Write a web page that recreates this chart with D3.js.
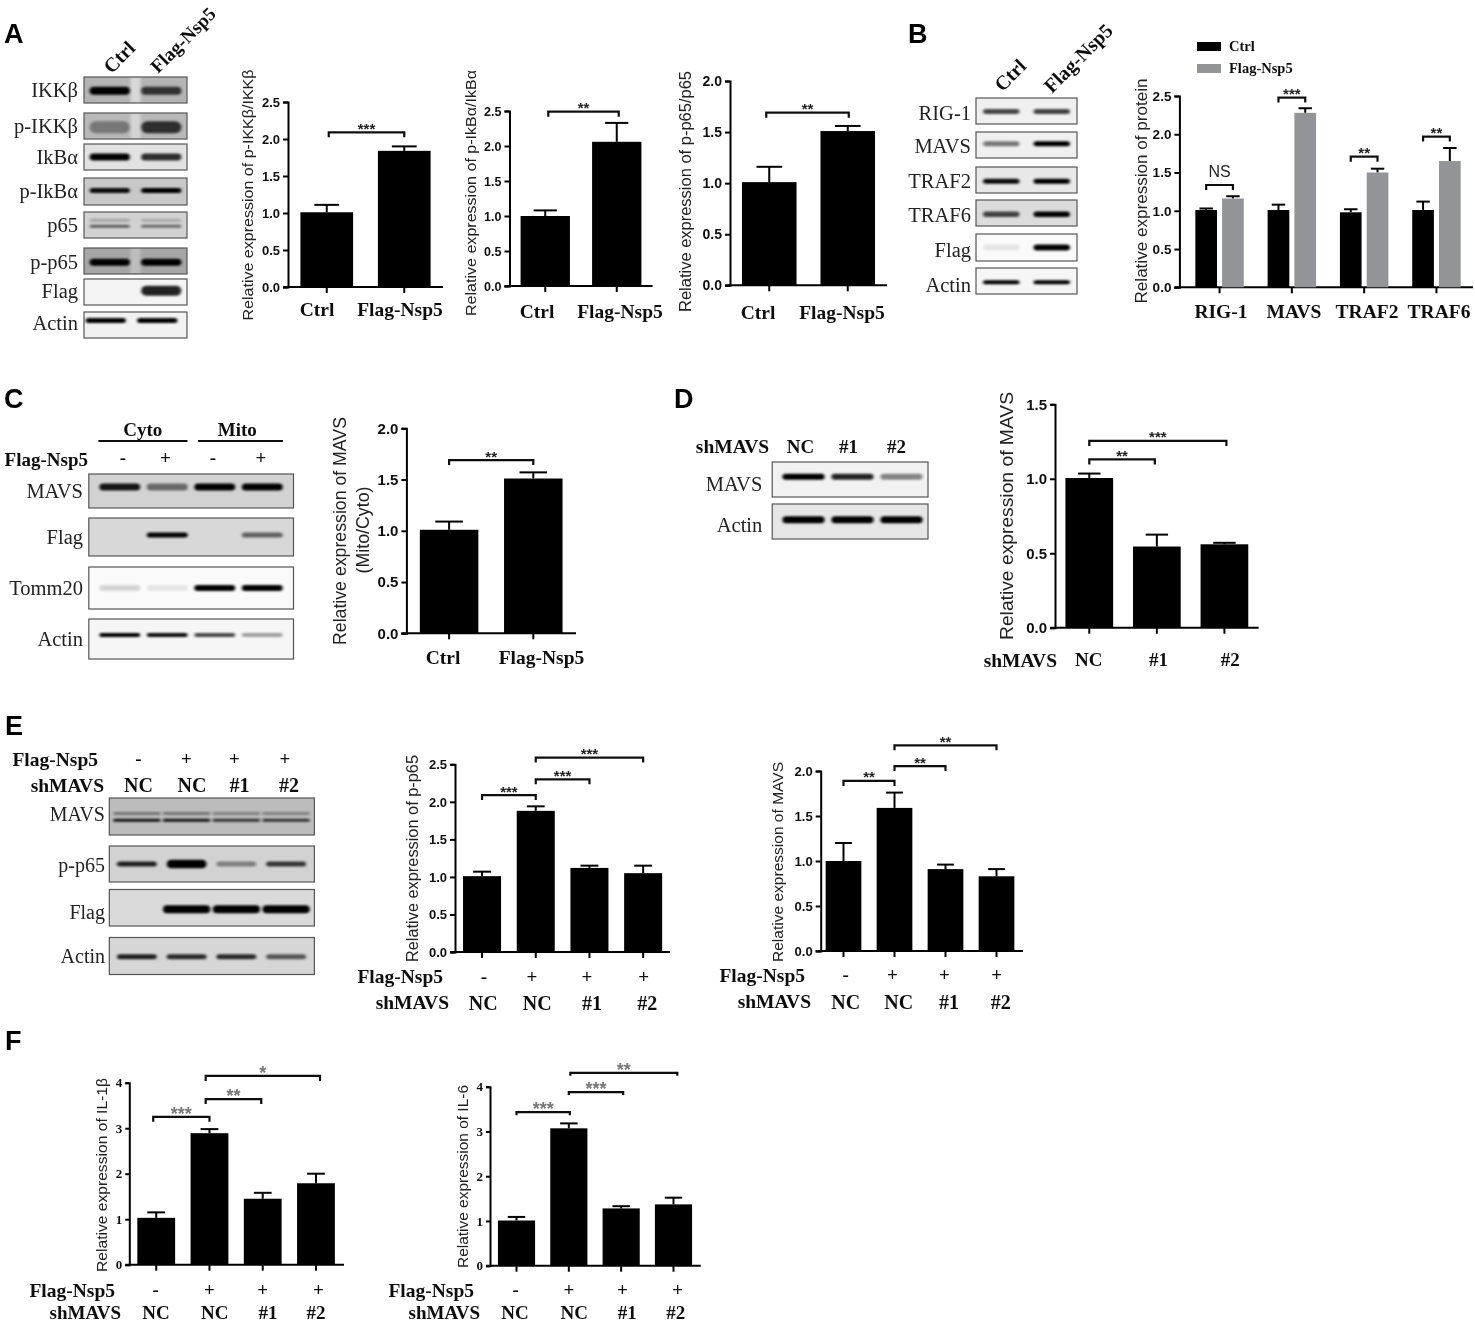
<!DOCTYPE html>
<html><head><meta charset="utf-8">
<script src="https://cdn.jsdelivr.net/npm/d3@7/dist/d3.min.js"></script>
<style>html,body{margin:0;background:#fff}svg{display:block}</style></head>
<body><div id="c"></div>
<script>
// ---------- DATA ----------
const ctrlFlag = ["Ctrl","Flag-Nsp5"];
const proteins = ["RIG-1","MAVS","TRAF2","TRAF6"];
const shOnly = ["NC","#1","#2"];
const flagRow = ["-","+","+","+"];
const shRow = ["NC","NC","#1","#2"];
const groupKeys4 = ["a","b","c","d"];

const a1Values=[1.01,1.84], a1Err=[0.10,0.06];
const a2Values=[1.00,2.06], a2Err=[0.08,0.27];
const a3Values=[1.01,1.51], a3Err=[0.15,0.05];
const bCtrl=[1.01,1.01,0.98,1.01], bCtrlErr=[0.02,0.07,0.04,0.11];
const bFlag=[1.16,2.28,1.50,1.65], bFlagErr=[0.03,0.06,0.05,0.17];
const cValues=[1.01,1.51], cErr=[0.08,0.06];
const dValues=[1.005,0.545,0.56], dErr=[0.03,0.08,0.01];
const e1Values=[1.01,1.88,1.12,1.05], e1Err=[0.06,0.06,0.03,0.10];
const e2Values=[1.00,1.59,0.91,0.83], e2Err=[0.20,0.17,0.05,0.08];
const f1Values=[1.03,2.89,1.45,1.79], f1Err=[0.12,0.09,0.13,0.21];
const f2Values=[1.01,3.07,1.28,1.37], f2Err=[0.08,0.11,0.05,0.15];

// band strength per lane, read from the blots (0 = no band, 1 = black)
const blotA = {labels:["IKKβ","p-IKKβ","IkBα","p-IkBα","p65","p-p65","Flag","Actin"],
  v:[[1,.72],[.35,.75],[1,.8],[.95,1],[.55,.5],[1,1],[0,.85],[1,1]]};
const blotB = {labels:["RIG-1","MAVS","TRAF2","TRAF6","Flag","Actin"],
  v:[[.7,.72],[.5,1],[.95,1],[.7,1],[.08,1],[1,1]]};
const blotC = {labels:["MAVS","Flag","Tomm20","Actin"],
  v:[[.9,.5,1,1],[0,1,0,.55],[.14,.08,1,1],[1,.95,.7,.35]]};
const blotD = {labels:["MAVS","Actin"], v:[[1,.85,.45],[1,1,1]]};
const blotE = {labels:["MAVS","p-p65","Flag","Actin"],
  v:[[.9,.9,.75,.75],[.85,1,.4,.75],[0,1,1,1],[.85,.8,.8,.6]]};

// ---------- LAYOUT ----------
const W=1475,H=1323;
const sans='"Liberation Sans",Arial,sans-serif', serif='"Liberation Serif","Times New Roman",serif';
const svg=d3.select("#c").append("svg").attr("width",W).attr("height",H);
const defs=svg.append("defs");
defs.append("filter").attr("id","soft").attr("x","-5%").attr("y","-5%").attr("width","110%").attr("height","110%")
  .append("feGaussianBlur").attr("stdDeviation",0.45);
const bf=defs.append("filter").attr("id","band").attr("x","-30%").attr("y","-200%").attr("width","160%").attr("height","500%");
bf.append("feGaussianBlur").attr("stdDeviation","1.5 1");
const root=svg.append("g").attr("filter","url(#soft)");

function txt(x,y,s,o={}){
  const t=root.append("text").attr("x",x).attr("y",y).text(s)
    .attr("font-family",o.f||serif).attr("font-size",o.s||19)
    .attr("font-weight",o.b===false?"normal":"bold")
    .attr("text-anchor",o.a||"middle").attr("dominant-baseline","central")
    .attr("fill",o.c||"#111");
  if(o.r!=null) t.attr("transform",`rotate(${o.r},${x},${y})`);
  if(o.len) t.attr("textLength",o.len).attr("lengthAdjust","spacingAndGlyphs");
  return t;
}
function letter(s,x,y){root.append("text").attr("x",x).attr("y",y).text(s)
  .attr("font-family",sans).attr("font-size",27).attr("font-weight","bold").attr("fill","#000");}

function chart(o){
  const g=root.append("g");
  const x=d3.scaleBand().domain(o.cats).range(o.xr).paddingInner(o.pad).paddingOuter(o.pad/2);
  const y=d3.scaleLinear().domain([0,o.max]).range([o.y0,o.yt]);
  const ax=g.append("g").attr("transform",`translate(${o.ax},0)`)
    .call(d3.axisLeft(y).tickValues(o.ticks).tickSize(o.tl||5).tickPadding(3).tickFormat(o.fmt||d3.format(".1f")));
  ax.selectAll("path,line").attr("stroke","#000").attr("stroke-width",2);
  ax.selectAll("text").attr("font-family",o.tf||sans).attr("font-weight","bold").attr("font-size",o.ts||13).attr("fill","#111");
  const bx=g.append("g").attr("transform",`translate(0,${o.y0})`)
    .call(d3.axisBottom(x).tickSize(6).tickFormat(""));
  bx.select("path").remove();
  bx.selectAll("line").attr("stroke","#000").attr("stroke-width",2);
  g.append("line").attr("x1",o.ax-(o.tl||5)).attr("x2",o.axEnd).attr("y1",o.y0).attr("y2",o.y0).attr("stroke","#000").attr("stroke-width",2);
  const cx=c=>x(c)+x.bandwidth()/2;
  const series=o.series||[{v:o.values,e:o.errs,fill:"#000"}];
  const inner=d3.scaleBand().domain(d3.range(series.length)).range([0,x.bandwidth()]).paddingInner(series.length>1?o.innerPad:0);
  const pos=(i,s)=>x(o.cats[i])+inner(s)+inner.bandwidth()/2;
  series.forEach((s,si)=>{
    const w=inner.bandwidth(), cap=w*(o.cap||.47);
    s.v.forEach((v,i)=>{
      const c=pos(i,si), e=v+s.e[i];
      g.append("line").attr("x1",c).attr("x2",c).attr("y1",y(v)).attr("y2",y(e)).attr("stroke","#000").attr("stroke-width",2);
      g.append("line").attr("x1",c-cap/2).attr("x2",c+cap/2).attr("y1",y(e)).attr("y2",y(e)).attr("stroke","#000").attr("stroke-width",2);
      g.append("rect").attr("x",c-w/2).attr("width",w).attr("y",y(v)).attr("height",y(0)-y(v)).attr("fill",s.fill);
    });
  });
  (o.brackets||[]).forEach(b=>{
    const x1=(series.length>1?pos(b.i,0):cx(o.cats[b.i]))+(b.d1||0), x2=(series.length>1?pos(b.i,1):cx(o.cats[b.j]))+(b.d2||0);
    const yy=y(b.y), d=o.drop||5;
    g.append("path").attr("d",`M${x1},${yy+d}V${yy}H${x2}V${yy+d}`).attr("fill","none").attr("stroke","#111").attr("stroke-width",o.bw||2.2);
    g.append("text").attr("x",(x1+x2)/2).attr("y",yy-(b.t==="NS"?13:(o.so||4))).text(b.t).attr("text-anchor","middle").attr("dominant-baseline","central")
      .attr("font-family",sans).attr("font-weight",b.t==="NS"?"normal":"bold").attr("font-size",b.t==="NS"?16:(o.ss||15)).attr("fill",o.sc||"#222");
  });
  o.title.forEach(t=>txt(t.x,t.y,t.s,{f:sans,b:false,s:t.fs,r:-90,c:"#222",len:t.len}));
}

function blot(b,o){
  const lanes=d3.scaleBand().domain(d3.range(b.v[0].length)).range(o.lanes);
  o.rows.forEach((r,ri)=>{
    const x0=o.x0,x1=o.x1,h=r.y1-r.y0;
    const g=root.append("g");
    const clip="clip"+o.id+ri;
    defs.append("clipPath").attr("id",clip).append("rect").attr("x",x0).attr("y",r.y0).attr("width",x1-x0).attr("height",h);
    g.append("rect").attr("x",x0).attr("y",r.y0).attr("width",x1-x0).attr("height",h).attr("fill",r.bg);
    const gb=g.append("g").attr("clip-path",`url(#${clip})`);
    if(r.gut) gb.append("rect").attr("x",(x0+x1)/2-5).attr("y",r.y0).attr("width",10).attr("height",h).attr("fill",r.gut).attr("filter","url(#band)");
    const drawn=(i,v,yf,t,wf)=>{
      if(v<=0) return;
      const cx=lanes(i)+lanes.bandwidth()/2+(r.dx||0);
      gb.append("rect").attr("x",cx-lanes.bandwidth()*wf/2).attr("width",lanes.bandwidth()*wf)
        .attr("y",r.y0+h*yf-t/2).attr("height",t).attr("rx",t/2)
        .attr("fill","#000").attr("opacity",v).attr("filter","url(#band)");
    };
    b.v[ri].forEach((v,i)=>{
      const k=r.tk?r.tk[i]:1;
      drawn(i,v,r.yf??.5,r.t*k,r.wf||o.wf||.8);
      if(r.extra) drawn(i,v*r.extra.k,r.extra.yf,r.extra.t,r.wf||o.wf||.8);
    });
    g.append("rect").attr("x",x0).attr("y",r.y0).attr("width",x1-x0).attr("height",h).attr("fill","none").attr("stroke","#555").attr("stroke-width",1.2);
    txt(o.lx,(r.y0+r.y1)/2+(r.dy||0),b.labels[ri],{a:"end",b:false,s:o.ls||19,c:"#222"});
  });
}
function rowText(vals,xs,y,o={}){vals.forEach((s,i)=>txt(xs[i],y,s,o));}

// ---------- PANEL LETTERS ----------
letter("A",4,43);letter("B",908,43);letter("C",4,408);letter("D",674,408);letter("E",5,735);letter("F",5,1050);

// ---------- PANEL A ----------
txt(119,57,"Ctrl",{r:-45,s:20});txt(183,40,"Flag-Nsp5",{r:-45,s:19});
blot(blotA,{id:"a",x0:84,x1:187,lanes:[84,187],lx:78,wf:.78,ls:20.5,rows:[
 {y0:77,y1:103,bg:"#b4b4b4",t:8,yf:.53,gut:"#d8d8d8"},
 {y0:113,y1:139,bg:"#b8b8b8",t:12,yf:.55,gut:"#d4d4d4"},
 {y0:144,y1:170,bg:"#e2e2e2",t:7,yf:.5},
 {y0:178,y1:205,bg:"#c8c8c8",t:5,yf:.46,dy:-1},
 {y0:212,y1:238,bg:"#d2d2d2",t:3,yf:.55,extra:{k:.4,yf:.32,t:3}},
 {y0:248,y1:274,bg:"#a6a6a6",t:7,yf:.55,gut:"#bdbdbd",dy:1},
 {y0:279,y1:305,bg:"#f4f4f4",t:10,yf:.45,dy:-1},
 {y0:312,y1:338,bg:"#f2f2f2",t:5,yf:.33,dx:-4,dy:-2}
]});
chart({cats:ctrlFlag,values:a1Values,errs:a1Err,max:2.5,ticks:[0,.5,1,1.5,2,2.5],xr:[288,443],pad:.32,ax:288,axEnd:443,y0:287,yt:102,ts:13,
  brackets:[{i:0,j:1,y:2.09,t:"***",d1:2}],title:[{x:247,y:195,s:"Relative expression of p-IKKβ/IKKβ",fs:15.5,len:251}]});
rowText(ctrlFlag,[317,400],309,{s:19.5});
chart({cats:ctrlFlag,values:a2Values,errs:a2Err,max:2.5,ticks:[0,.5,1,1.5,2,2.5],xr:[509.5,652.5],pad:.31,ax:509.5,axEnd:652.5,y0:286,yt:111,ts:12.5,
  brackets:[{i:0,j:1,y:2.49,t:"**",d1:3,d2:2}],title:[{x:471,y:193,s:"Relative expression of p-IkBα/IkBα",fs:14.5,len:246}]});
rowText(ctrlFlag,[537,620],311,{s:19.5});
chart({cats:ctrlFlag,values:a3Values,errs:a3Err,max:2,ticks:[0,.5,1,1.5,2],xr:[730,887],pad:.305,ax:730,axEnd:887,y0:285.3,yt:81,ts:14,
  brackets:[{i:0,j:1,y:1.69,t:"**",d1:-3,d2:1}],title:[{x:685,y:191.5,s:"Relative expression of p-p65/p65",fs:16,len:241}]});
rowText(ctrlFlag,[758,842],312,{s:19.5});

// ---------- PANEL B ----------
txt(1010,75,"Ctrl",{r:-45,s:20});txt(1078,58,"Flag-Nsp5",{r:-45,s:20});
blot(blotB,{id:"b",x0:976,x1:1077,lanes:[976,1077],lx:971,wf:.72,ls:20.5,rows:[
 {y0:98,y1:124,bg:"#f0f0f0",t:5,yf:.52,dy:2},
 {y0:132,y1:158,bg:"#f0f0f0",t:5,yf:.45,dy:1},
 {y0:167,y1:193,bg:"#e8e8e8",t:5,yf:.55,dy:1},
 {y0:200,y1:226,bg:"#dcdcdc",t:5.5,yf:.55,dy:2},
 {y0:234,y1:261,bg:"#fafafa",t:6,yf:.5,dy:2},
 {y0:268,y1:294,bg:"#f6f6f6",t:4,yf:.55,dy:4}
]});
chart({cats:proteins,series:[{v:bCtrl,e:bCtrlErr,fill:"#000"},{v:bFlag,e:bFlagErr,fill:"#929497"}],innerPad:.19,cap:.62,
  max:2.5,ticks:[0,.5,1,1.5,2,2.5],xr:[1183.4,1472.6],pad:.33,ax:1179.4,axEnd:1473,y0:287.3,yt:96,ts:13.5,
  brackets:[{i:0,y:1.337,t:"NS"},{i:1,y:2.48,t:"***"},{i:2,y:1.707,t:"**"},{i:3,y:1.97,t:"**"}],
  title:[{x:1141,y:191,s:"Relative expression of protein",fs:16.5,len:225}]});
rowText(proteins,[1221,1294,1367,1439],311,{s:19.5});
root.append("rect").attr("x",1197).attr("y",42).attr("width",24).attr("height",9).attr("fill","#000");
root.append("rect").attr("x",1197).attr("y",64).attr("width",24).attr("height",9).attr("fill","#929497");
txt(1229,46,"Ctrl",{a:"start",s:14.5});txt(1229,68,"Flag-Nsp5",{a:"start",s:14.5});

// ---------- PANEL C ----------
txt(142.7,429,"Cyto",{s:19});txt(237.3,429,"Mito",{s:19});
root.append("line").attr("x1",98.4).attr("x2",187.5).attr("y1",441).attr("y2",441).attr("stroke","#111").attr("stroke-width",1.8);
root.append("line").attr("x1",198).attr("x2",283).attr("y1",441).attr("y2",441).attr("stroke","#111").attr("stroke-width",1.8);
txt(88,459,"Flag-Nsp5",{a:"end",s:19});
rowText(["-","+","-","+"],[122.8,165.3,212.8,261],457,{s:19});
blot(blotC,{id:"c",x0:88.8,x1:293.5,lanes:[96,286],lx:83,wf:.86,ls:20.5,rows:[
 {y0:474,y1:508,bg:"#d2d2d2",t:7,yf:.38},
 {y0:518,y1:556,bg:"#d8d8d8",t:5,yf:.45},
 {y0:567,y1:609,bg:"#fafafa",t:6,yf:.5},
 {y0:619,y1:659,bg:"#f6f6f6",t:4,yf:.4}
]});
chart({cats:ctrlFlag,values:cValues,errs:cErr,max:2,ticks:[0,.5,1,1.5,2],xr:[407,575.4],pad:.305,ax:406.4,axEnd:576,y0:633.3,yt:428.3,ts:15,
  brackets:[{i:0,j:1,y:1.69,t:"**"}],
  title:[{x:340,y:531,s:"Relative expression of MAVS",fs:17.5,len:228},{x:363,y:530,s:"(Mito/Cyto)",fs:17.5,len:87}]});
rowText(ctrlFlag,[443,541.5],657,{s:19.5});

// ---------- PANEL D ----------
txt(769.2,446.5,"shMAVS",{a:"end",s:19.5});
rowText(shOnly,[800.5,848.4,896.6],446.5,{s:19});
blot(blotD,{id:"d",x0:772.2,x1:928,lanes:[779,926],lx:762.3,wf:.86,ls:20.5,rows:[
 {y0:462,y1:497,bg:"#f2f2f2",t:6,yf:.42,dy:4},
 {y0:504,y1:539,bg:"#e6e6e6",t:7,yf:.45,dy:3}
]});
chart({cats:shOnly,values:dValues,errs:dErr,max:1.5,ticks:[0,.5,1,1.5],xr:[1055.5,1258.2],pad:.294,ax:1055,axEnd:1258.6,y0:627.7,yt:404.3,ts:15,
  brackets:[{i:0,j:1,y:1.13,t:"**",d2:-2},{i:0,j:2,y:1.254,t:"***",d2:2}],
  title:[{x:1006,y:516,s:"Relative expression of MAVS",fs:18.5,len:248}]});
txt(1057,660.5,"shMAVS",{a:"end",s:19.5});
rowText(shOnly,[1088.7,1158.4,1230.3],659.5,{s:19});

// ---------- PANEL E ----------
txt(98,759,"Flag-Nsp5",{a:"end",s:19.5});
rowText(flagRow,[138.5,186.5,234.5,285],758,{s:19});
txt(104,785,"shMAVS",{a:"end",s:19.5});
rowText(shRow,[138.5,192,239.5,289],785,{s:20});
blot(blotE,{id:"e",x0:109.3,x1:314.4,lanes:[112,311],lx:105,wf:.8,ls:20,rows:[
 {y0:798,y1:835,bg:"#bcbcbc",t:3,yf:.6,extra:{k:.5,yf:.42,t:2.5},wf:.95,dy:-2.5},
 {y0:846,y1:882,bg:"#d2d2d2",t:5,yf:.5,tk:[1,1.7,1,1],dy:1},
 {y0:889.5,y1:926,bg:"#dadada",t:8,yf:.54,wf:.95,dy:4},
 {y0:937.5,y1:974.5,bg:"#d6d6d6",t:5,yf:.52,dy:0}
]});
chart({cats:groupKeys4,values:e1Values,errs:e1Err,max:2.5,ticks:[0,.5,1,1.5,2,2.5],xr:[455.2,670],pad:.292,ax:455,axEnd:670,y0:952,yt:764.3,ts:13,
  brackets:[{i:0,j:1,y:2.09,t:"***"},{i:1,j:2,y:2.30,t:"***"},{i:1,j:3,y:2.59,t:"***"}],
  title:[{x:412.7,y:858.5,s:"Relative expression of p-p65",fs:16,len:207}]});
txt(443,976,"Flag-Nsp5",{a:"end",s:19.5});
rowText(flagRow,[484,532,587,643.7],976,{s:19});
txt(449,1002.5,"shMAVS",{a:"end",s:19.5});
rowText(shRow,[483.3,537.3,592,647.3],1002.7,{s:20});
chart({cats:groupKeys4,values:e2Values,errs:e2Err,max:2,ticks:[0,.5,1,1.5,2],xr:[818,1022],pad:.3,ax:820.7,axEnd:1023,y0:951,yt:771,ts:13,
  brackets:[{i:0,j:1,y:1.89,t:"**"},{i:1,j:2,y:2.055,t:"**"},{i:1,j:3,y:2.285,t:"**"}],
  title:[{x:777,y:862,s:"Relative expression of MAVS",fs:15.5,len:200}]});
txt(805,975,"Flag-Nsp5",{a:"end",s:19.5});
rowText(flagRow,[845.7,892.3,944.3,996.7],974,{s:19});
txt(811,1001,"shMAVS",{a:"end",s:19.5});
rowText(shRow,[845.7,898.7,949,1000.7],1001.5,{s:20});

// ---------- PANEL F ----------
const intFmt=d3.format("d");
chart({cats:groupKeys4,values:f1Values,errs:f1Err,max:4,ticks:[0,1,2,3,4],fmt:intFmt,tf:serif,ts:13,tl:4,xr:[129.6,342.6],pad:.29,ax:129.3,axEnd:344,y0:1264.7,yt:1082.7,
  sc:"#777",ss:18,so:3,brackets:[{i:0,j:1,y:3.25,t:"***",d1:-3},{i:1,j:2,y:3.64,t:"**",d1:-3.8,d2:-1.5},{i:1,j:3,y:4.15,t:"*",d1:-3.8,d2:4}],
  title:[{x:101.7,y:1175,s:"Relative expression of IL-1β",fs:15,len:194}]});
txt(115,1290,"Flag-Nsp5",{a:"end",s:19.5});
rowText(flagRow,[155.7,209.3,262.7,318.3],1289,{s:19});
txt(121,1312,"shMAVS",{a:"end",s:19});
rowText(shRow,[156,214.7,268,316],1312,{s:19});
chart({cats:groupKeys4,values:f2Values,errs:f2Err,max:4,ticks:[0,1,2,3,4],fmt:intFmt,tf:serif,ts:13,tl:4,xr:[490.35,699.65],pad:.29,ax:490,axEnd:700.7,y0:1265.7,yt:1086.7,
  sc:"#777",ss:18,so:3,drop:3,brackets:[{i:0,j:1,y:3.43,t:"***",d2:1},{i:1,j:2,y:3.88,t:"***",d2:2},{i:1,j:3,y:4.31,t:"**",d1:1.5,d2:3.8}],
  title:[{x:462.7,y:1176.5,s:"Relative expression of IL-6",fs:15,len:183}]});
txt(474,1290,"Flag-Nsp5",{a:"end",s:19.5});
rowText(flagRow,[515.7,569,622.3,677.7],1289,{s:19});
txt(480,1312,"shMAVS",{a:"end",s:19});
rowText(shRow,[515,574.3,627.3,675.7],1312,{s:19});
</script></body></html>
